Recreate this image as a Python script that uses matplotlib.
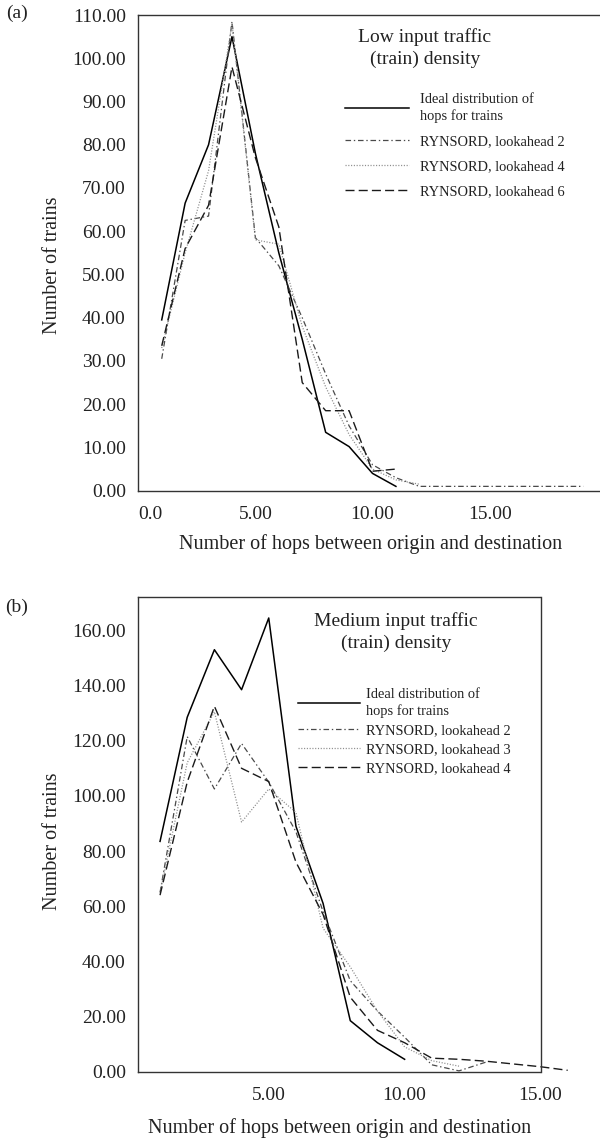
import matplotlib
matplotlib.use('Agg')
import matplotlib.pyplot as plt

plt.rcParams['font.family'] = ['Liberation Serif', 'DejaVu Serif']
plt.rcParams['lines.scale_dashes'] = False

# ---- data ----
# (a) low input traffic density
a_hops_ideal = [1, 2, 3, 4, 5, 6, 7, 8, 9, 10, 11]
a_ideal = [39.5, 66.5, 80.0, 105.0, 78.0, 55.0, 35.0, 13.5, 10.2, 4.0, 1.0]
a_hops_la2 = [1, 2, 3, 4, 5, 6, 7, 8, 9, 10, 11, 12, 13, 14, 15, 16, 17, 18, 19]
a_la2 = [30.5, 62.5, 63.5, 108.5, 58.5, 52.0, 40.0, 27.0, 15.0, 6.0, 3.0, 1.0,
         1.0, 1.0, 1.0, 1.0, 1.0, 1.0, 1.0]
a_hops_la4 = [1, 2, 3, 4, 5, 6, 7, 8, 9, 10, 11, 12]
a_la4 = [33.0, 55.0, 74.0, 108.0, 58.0, 57.0, 38.0, 24.0, 13.0, 5.0, 2.5, 1.5]
a_hops_la6 = [1, 2, 3, 4, 5, 6, 7, 8, 9, 10, 11]
a_la6 = [33.5, 56.0, 66.0, 98.0, 77.0, 61.0, 25.0, 18.5, 18.5, 4.5, 5.0]

# (b) medium input traffic density
b_hops_ideal = [1, 2, 3, 4, 5, 6, 7, 8, 9, 10]
b_ideal = [83.5, 128.5, 153.0, 138.5, 164.5, 89.0, 61.0, 18.5, 10.5, 4.5]
b_hops_la2 = [1, 2, 3, 4, 5, 6, 7, 8, 9, 10, 11, 12, 13]
b_la2 = [65.0, 121.5, 102.5, 119.0, 105.0, 87.0, 58.0, 33.0, 22.0, 12.5, 2.5, 0.3, 3.5]
b_hops_la3 = [1, 2, 3, 4, 5, 6, 7, 8, 9, 10, 11, 12]
b_la3 = [65.0, 112.0, 130.5, 90.5, 102.5, 94.0, 52.0, 38.0, 22.0, 9.0, 4.0, 2.0]
b_hops_la4 = [1, 2, 3, 4, 5, 6, 7, 8, 9, 10, 11, 12, 13, 14, 15, 16]
b_la4 = [64.0, 105.0, 132.5, 110.0, 105.2, 76.0, 57.0, 27.0, 15.0, 10.5, 4.9,
         4.5, 3.8, 2.8, 1.8, 0.5]

W, H = 600, 1139
fig = plt.figure(figsize=(W / 100, H / 100), dpi=100)


def box(l, t, r, b):
    return [l / W, 1 - b / H, (r - l) / W, (b - t) / H]


ax_a = fig.add_axes(box(138.3, 15, 606.7, 490.7))
ax_b = fig.add_axes(box(138.3, 597.3, 540.5, 1071.7))

styles = {
    'ideal': dict(color='black', lw=1.1, linestyle='-'),
    'la2': dict(color='#4a4a4a', lw=0.9, dashes=(4, 2, 1, 2)),
    'dot': dict(color='#8c8c8c', lw=0.9, dashes=(0.8, 1.2)),
    'dash': dict(color='#1a1a1a', lw=1.0, dashes=(6.5, 3)),
}

ax_a.plot(a_hops_ideal, a_ideal, label='Ideal distribution of\nhops for trains', **styles['ideal'])
ax_a.plot(a_hops_la2, a_la2, label='RYNSORD, lookahead 2', **styles['la2'])
ax_a.plot(a_hops_la4, a_la4, label='RYNSORD, lookahead 4', **styles['dot'])
ax_a.plot(a_hops_la6, a_la6, label='RYNSORD, lookahead 6', **styles['dash'])

ax_b.plot(b_hops_ideal, b_ideal, label='Ideal distribution of\nhops for trains', **styles['ideal'])
ax_b.plot(b_hops_la2, b_la2, label='RYNSORD, lookahead 2', **styles['la2'])
ax_b.plot(b_hops_la3, b_la3, label='RYNSORD, lookahead 3', **styles['dot'])
ax_b.plot(b_hops_la4, b_la4, label='RYNSORD, lookahead 4', clip_on=False, **styles['dash'])

ax_a.set_xlim(0, 20)
ax_a.set_ylim(0, 110)
ax_b.set_xlim(0.2, 15)
ax_b.set_ylim(0, 172)

ax_a.set_yticks(range(0, 111, 10), ['%.2f' % v for v in range(0, 111, 10)])
ax_a.set_xticks([0, 5, 10, 15], ['0.0', '5.00', '10.00', '15.00'])
ax_a.get_xticklabels()[0].set_horizontalalignment('left')
ax_b.set_yticks(range(0, 161, 20), ['%.2f' % v for v in range(0, 161, 20)])
ax_b.set_xticks([5, 10, 15], ['5.00', '10.00', '15.00'])

for ax in (ax_a, ax_b):
    ax.tick_params(length=0, labelsize=14, colors='#222222', pad=9)
    ax.tick_params(axis='x', pad=11)
    for s in ax.spines.values():
        s.set_color('#333333')
        s.set_linewidth(1.0)
    ax.set_ylabel('Number of trains', fontsize=14.5, color='#222222')
    ax.set_xlabel('Number of hops between origin and destination', fontsize=14.5, color='#222222')

ax_a.yaxis.set_label_coords(-0.163, 0.474)
ax_a.xaxis.set_label_coords(0.495, -0.092)
ax_b.yaxis.set_label_coords(-0.19, 0.485)
ax_b.xaxis.set_label_coords(0.5, -0.097)

fig.text(17 / W, 1 - 13 / H, '(a)', fontsize=14, ha='center', va='center', color='#222222')
fig.text(17 / W, 1 - 607 / H, '(b)', fontsize=14, ha='center', va='center', color='#222222')

fig.text(425 / W, 1 - 48 / H, 'Low input traffic\n(train) density', fontsize=14,
         ha='center', va='center', multialignment='center', linespacing=1.35, color='#222222')
fig.text(396 / W, 1 - 632 / H, 'Medium input traffic\n(train) density', fontsize=14,
         ha='center', va='center', multialignment='center', linespacing=1.3, color='#222222')

leg_a = ax_a.legend(loc='upper left', bbox_to_anchor=(345 / W, 1 - 93 / H), bbox_transform=fig.transFigure,
                    frameon=False, fontsize=10.4, handlelength=4.45, handletextpad=0.75,
                    borderpad=0, borderaxespad=0, labelspacing=0.82, labelcolor='#222222')
leg_b = ax_b.legend(loc='upper left', bbox_to_anchor=(298 / W, 1 - 688 / H), bbox_transform=fig.transFigure,
                    frameon=False, fontsize=10.4, handlelength=4.3, handletextpad=0.43,
                    borderpad=0, borderaxespad=0, labelspacing=0.42, labelcolor='#222222')
for leg in (leg_a, leg_b):
    for t in leg.get_texts():
        t.set_linespacing(1.3)

fig.savefig('out.png', dpi=100)
